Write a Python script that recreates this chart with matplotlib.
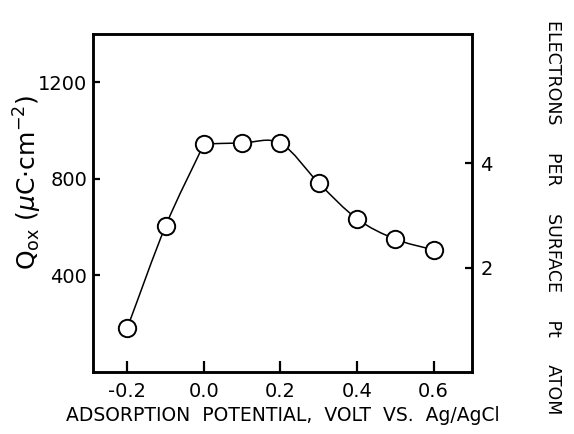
import numpy as np
import matplotlib
matplotlib.use("Agg")
import matplotlib.pyplot as plt
from matplotlib.path import Path
from matplotlib.patches import PathPatch

# Oxidation charge vs. adsorption potential
potential = [-0.2, -0.1, 0.0, 0.1, 0.2, 0.3, 0.4, 0.5, 0.6]
q_ox = [184, 605, 944, 948, 947, 782, 634, 550, 505]

x_ticks = [-0.2, 0.0, 0.2, 0.4, 0.6]
x_ticklabels = ["-0.2", "0.0", "0.2", "0.4", "0.6"]
y_ticks = [400, 800, 1200]
e_ticks = [2, 4]
charge_per_electron = 216.0  # uC cm^-2 per electron per surface Pt atom

# the curve has a sharp knee at this potential
knee_potentials = [0.0]

plt.rcParams["font.family"] = ["DejaVu Sans"]


def smooth_path(x, y, corners=()):
    """Catmull-Rom style cubic through the points, with optional corners."""
    x = np.asarray(x, float)
    y = np.asarray(y, float)
    n = len(x)
    d = np.diff(y) / np.diff(x)
    m_in = np.empty(n)
    m_out = np.empty(n)
    m_in[0] = m_out[0] = d[0]
    m_in[-1] = m_out[-1] = d[-1]
    for k in range(1, n - 1):
        if any(np.isclose(x[k], c) for c in corners):
            m_in[k], m_out[k] = d[k - 1], d[k]
        else:
            m_in[k] = m_out[k] = (y[k + 1] - y[k - 1]) / (x[k + 1] - x[k - 1])
    verts = [(x[0], y[0])]
    codes = [Path.MOVETO]
    for k in range(n - 1):
        h = x[k + 1] - x[k]
        verts += [(x[k] + h / 3, y[k] + m_out[k] * h / 3),
                  (x[k + 1] - h / 3, y[k + 1] - m_in[k + 1] * h / 3),
                  (x[k + 1], y[k + 1])]
        codes += [Path.CURVE4] * 3
    return Path(verts, codes)


fig = plt.figure(figsize=(5.74, 4.34), dpi=100)
ax = fig.add_axes([0.162, 0.143, 0.66, 0.779])

ax.add_patch(PathPatch(smooth_path(potential, q_ox, knee_potentials), fill=False,
                       lw=1.1, color="black", zorder=2))
ax.plot(potential, q_ox, linestyle="none", marker="o", markersize=12.5,
        markerfacecolor="white", markeredgecolor="black", markeredgewidth=1.4, zorder=3)

ax.set_xlim(-0.29, 0.70)
ax.set_ylim(0, 1400)
ax.set_xticks(x_ticks)
ax.set_xticklabels(x_ticklabels)
ax.set_yticks(y_ticks)

for s in ax.spines.values():
    s.set_linewidth(1.8)

ax.tick_params(axis="x", direction="in", length=8, width=1.6, labelsize=14, pad=7)
ax.tick_params(axis="y", direction="in", length=5, width=1.6, labelsize=14, pad=4)

ax.set_xlabel("ADSORPTION  POTENTIAL,  VOLT  VS.  Ag/AgCl", fontsize=13.5, labelpad=4)
ax.set_ylabel(r"Q$_{\mathrm{ox}}$ ($\mu$C$\cdot$cm$^{-2}$)", fontsize=18)
ax.yaxis.set_label_coords(-0.13, 0.56)

ax2 = ax.twinx()
ax2.set_ylim(0, 1400 / charge_per_electron)
ax2.set_yticks(e_ticks)
ax2.tick_params(axis="y", direction="in", length=5, width=1.6, labelsize=14, pad=6)
for s in ax2.spines.values():
    s.set_linewidth(1.8)

fig.text(0.963, 0.499, "ELECTRONS     PER     SURFACE     Pt     ATOM", fontsize=12.5,
         rotation=-90, ha="center", va="center")

fig.savefig("out.png", dpi=100)
